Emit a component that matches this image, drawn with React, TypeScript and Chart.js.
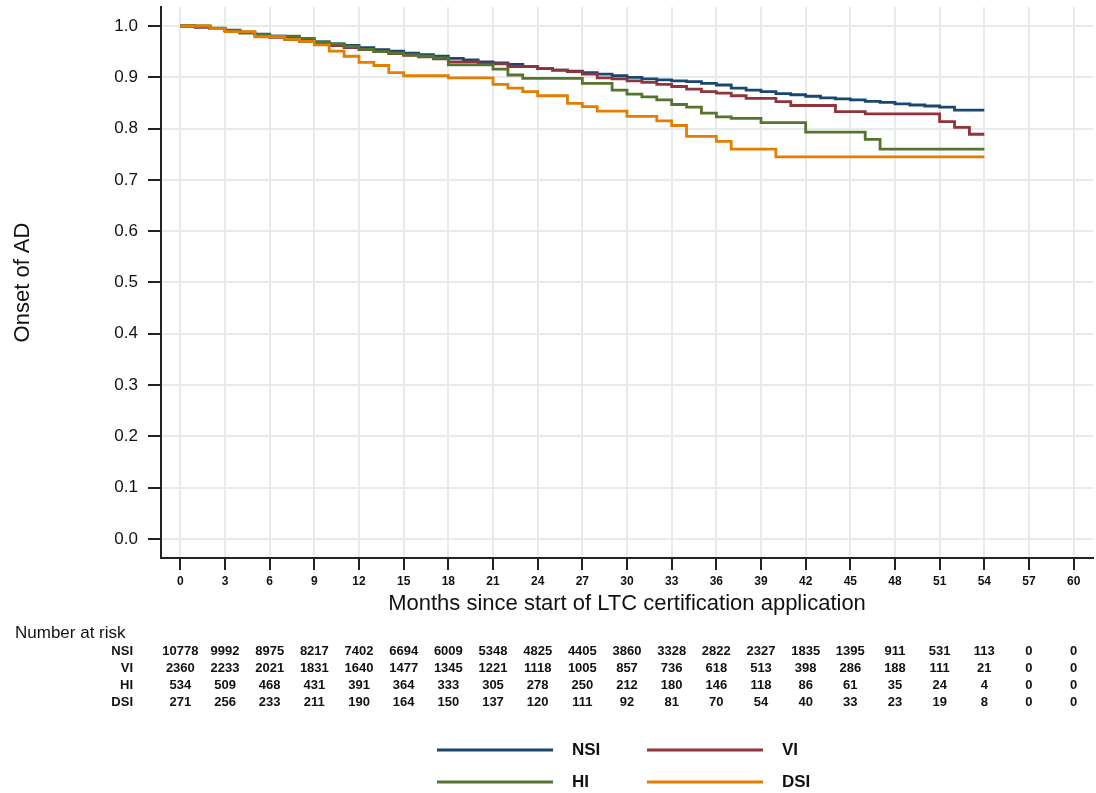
import React, { useEffect, useRef } from "react";
import { Chart, registerables } from "chart.js";

Chart.register(...registerables);

// ---- Data ----
const monthTicks = [0, 3, 6, 9, 12, 15, 18, 21, 24, 27, 30, 33, 36, 39, 42, 45, 48, 51, 54, 57, 60];
const yTicks = [0, 0.1, 0.2, 0.3, 0.4, 0.5, 0.6, 0.7, 0.8, 0.9, 1.0];
const groups = ["NSI", "VI", "HI", "DSI"];
const colors = ["#1a476f", "#90353b", "#55752f", "#e37e00"];

const nsiTimes = [0, 1, 2, 3, 4, 5, 6, 7, 8, 9, 10, 11, 12, 13, 14, 15, 16, 17, 18, 19, 20, 21, 22, 23, 24, 25, 26, 27, 28, 29, 30, 31, 32, 33, 34, 35, 36, 37, 38, 39, 40, 41, 42, 43, 44, 45, 46, 47, 48, 49, 50, 51, 52, 54];
const nsiSurv = [1, 0.998, 0.995, 0.992, 0.988, 0.984, 0.98, 0.976, 0.973, 0.969, 0.965, 0.962, 0.958, 0.954, 0.951, 0.947, 0.944, 0.941, 0.937, 0.934, 0.93, 0.928, 0.925, 0.921, 0.917, 0.914, 0.912, 0.909, 0.906, 0.903, 0.9, 0.897, 0.895, 0.893, 0.8915, 0.888, 0.885, 0.879, 0.875, 0.872, 0.868, 0.866, 0.863, 0.86, 0.858, 0.856, 0.853, 0.851, 0.848, 0.846, 0.844, 0.842, 0.836, 0.836];

const viTimes = [0, 1, 2, 3, 4, 5, 6, 7, 8, 9, 10, 11, 12, 13, 14, 15, 16, 17, 18, 20, 22, 24, 25, 26, 27, 28, 29, 30, 31, 32, 33, 34, 35, 36, 37, 38, 40, 41, 44, 46, 51, 52, 53, 54];
const viSurv = [1, 0.998, 0.995, 0.991, 0.987, 0.982, 0.978, 0.974, 0.97, 0.966, 0.962, 0.958, 0.954, 0.95, 0.946, 0.943, 0.94, 0.936, 0.93, 0.926, 0.921, 0.9175, 0.914, 0.911, 0.906, 0.899, 0.897, 0.893, 0.89, 0.886, 0.882, 0.877, 0.872, 0.869, 0.864, 0.859, 0.8525, 0.845, 0.833, 0.8285, 0.8135, 0.8025, 0.789, 0.789];

const hiTimes = [0, 2, 3, 4, 5, 6, 8, 9, 10, 11, 12, 13, 14, 15, 16, 17, 18, 21, 22, 23, 27, 29, 30, 31, 32, 33, 34, 35, 36, 37, 39, 42, 46, 47, 54];
const hiSurv = [1, 0.996, 0.991, 0.986, 0.983, 0.98, 0.976, 0.969, 0.965, 0.96, 0.9545, 0.95, 0.947, 0.9435, 0.941, 0.938, 0.924, 0.916, 0.9045, 0.898, 0.888, 0.875, 0.867, 0.862, 0.856, 0.847, 0.842, 0.83, 0.823, 0.82, 0.8115, 0.793, 0.779, 0.76, 0.76];

const dsiTimes = [0, 2, 3, 5, 7, 8, 9, 10, 11, 12, 13, 14, 15, 18, 21, 22, 23, 24, 26, 27, 28, 30, 32, 33, 34, 36, 37, 40, 54];
const dsiSurv = [1, 0.995, 0.989, 0.979, 0.974, 0.97, 0.963, 0.951, 0.941, 0.929, 0.923, 0.909, 0.903, 0.899, 0.886, 0.879, 0.872, 0.864, 0.849, 0.843, 0.834, 0.824, 0.815, 0.806, 0.785, 0.775, 0.76, 0.745, 0.745];

const riskNSI = [10778, 9992, 8975, 8217, 7402, 6694, 6009, 5348, 4825, 4405, 3860, 3328, 2822, 2327, 1835, 1395, 911, 531, 113, 0, 0];
const riskVI = [2360, 2233, 2021, 1831, 1640, 1477, 1345, 1221, 1118, 1005, 857, 736, 618, 513, 398, 286, 188, 111, 21, 0, 0];
const riskHI = [534, 509, 468, 431, 391, 364, 333, 305, 278, 250, 212, 180, 146, 118, 86, 61, 35, 24, 4, 0, 0];
const riskDSI = [271, 256, 233, 211, 190, 164, 150, 137, 120, 111, 92, 81, 70, 54, 40, 33, 23, 19, 8, 0, 0];

const FONT = '"Liberation Sans", Arial, Helvetica, sans-serif';

const pts = (xs: number[], ys: number[]) => xs.map((x, i) => ({ x, y: ys[i] }));

const extrasPlugin = {
  id: "extras",
  afterDraw(chart: any) {
    const ctx = chart.ctx as CanvasRenderingContext2D;
    const xs = chart.scales.x;
    ctx.save();
    ctx.fillStyle = "#111";
    ctx.textBaseline = "middle";
    ctx.textAlign = "left";
    ctx.font = `17px ${FONT}`;
    ctx.fillText("Number at risk", 15, 633);
    const rows = [riskNSI, riskVI, riskHI, riskDSI];
    ctx.font = `bold 13px ${FONT}`;
    rows.forEach((row, r) => {
      const y = 651 + r * 17;
      ctx.textAlign = "right";
      ctx.fillText(groups[r], 133, y);
      ctx.textAlign = "center";
      row.forEach((v, i) => {
        ctx.fillText(String(v), xs.getPixelForValue(monthTicks[i]), y);
      });
    });
    // legend
    const colX = [437, 647];
    const rowY = [750, 782];
    chart.data.datasets.forEach((ds: any, i: number) => {
      const cx = colX[i % 2];
      const cy = rowY[Math.floor(i / 2)];
      ctx.strokeStyle = ds.borderColor;
      ctx.lineWidth = 3;
      ctx.beginPath();
      ctx.moveTo(cx, cy);
      ctx.lineTo(cx + 116, cy);
      ctx.stroke();
      ctx.fillStyle = "#111";
      ctx.textAlign = "left";
      ctx.font = `bold 17px ${FONT}`;
      ctx.fillText(ds.label, cx + 135, cy);
    });
    ctx.restore();
  },
};

export default function App() {
  const ref = useRef<HTMLCanvasElement>(null);
  useEffect(() => {
    if (!ref.current) return;
    const series = [
      pts(nsiTimes, nsiSurv),
      pts(viTimes, viSurv),
      pts(hiTimes, hiSurv),
      pts(dsiTimes, dsiSurv),
    ];
    const chart = new Chart(ref.current, {
      type: "line",
      data: {
        datasets: series.map((d, i) => ({
          label: groups[i],
          data: d,
          borderColor: colors[i],
          backgroundColor: colors[i],
          borderWidth: 2.8,
          pointRadius: 0,
          stepped: true,
          fill: false,
          order: 3 - i,
        })),
      },
      options: {
        animation: false,
        responsive: false,
        parsing: false,
        layout: { padding: { left: 0, right: 3, top: 7, bottom: 175 } },
        plugins: { legend: { display: false }, tooltip: { enabled: false } },
        scales: {
          x: {
            type: "linear",
            min: -1.3,
            max: 61.3,
            afterBuildTicks: (s: any) => {
              s.ticks = monthTicks.map((v) => ({ value: v }));
            },
            afterFit: (s: any) => {
              s.height = 60;
              s.paddingLeft = 0;
              s.paddingRight = 0;
            },
            grid: { color: "#e6ebee", lineWidth: 2, tickColor: "#222", tickLength: 12, drawTicks: true },
            border: { color: "#222", width: 2 },
            ticks: {
              font: { family: FONT, size: 12, weight: "bold" },
              color: "#111",
              padding: 4,
              maxRotation: 0,
              autoSkip: false,
              callback: (v: any) => String(v),
            },
            title: {
              display: true,
              text: "Months since start of LTC certification application",
              font: { family: FONT, size: 22 },
              color: "#111",
              padding: { top: 0, bottom: 1 },
            },
          },
          y: {
            type: "linear",
            min: -0.037,
            max: 1.037,
            afterBuildTicks: (s: any) => {
              s.ticks = yTicks.map((v) => ({ value: v }));
            },
            afterFit: (s: any) => {
              s.width = 161;
              s.paddingTop = 0;
              s.paddingBottom = 0;
            },
            grid: { color: "#e6ebee", lineWidth: 2, tickColor: "#222", tickLength: 13, drawTicks: true },
            border: { color: "#222", width: 2 },
            ticks: {
              font: { family: FONT, size: 17 },
              color: "#111",
              padding: 10,
              callback: (v: any) => Number(v).toFixed(1),
            },
            title: {
              display: true,
              text: "Onset of AD",
              font: { family: FONT, size: 22 },
              color: "#111",
              padding: { top: 10, bottom: 0 },
            },
          },
        },
      },
      plugins: [extrasPlugin],
    } as any);
    return () => chart.destroy();
  }, []);
  return (
    <div style={{ position: "absolute", left: 0, top: 0, width: 1096, height: 793, background: "#fff" }}>
      <canvas ref={ref} width={1096} height={793} />
    </div>
  );
}
